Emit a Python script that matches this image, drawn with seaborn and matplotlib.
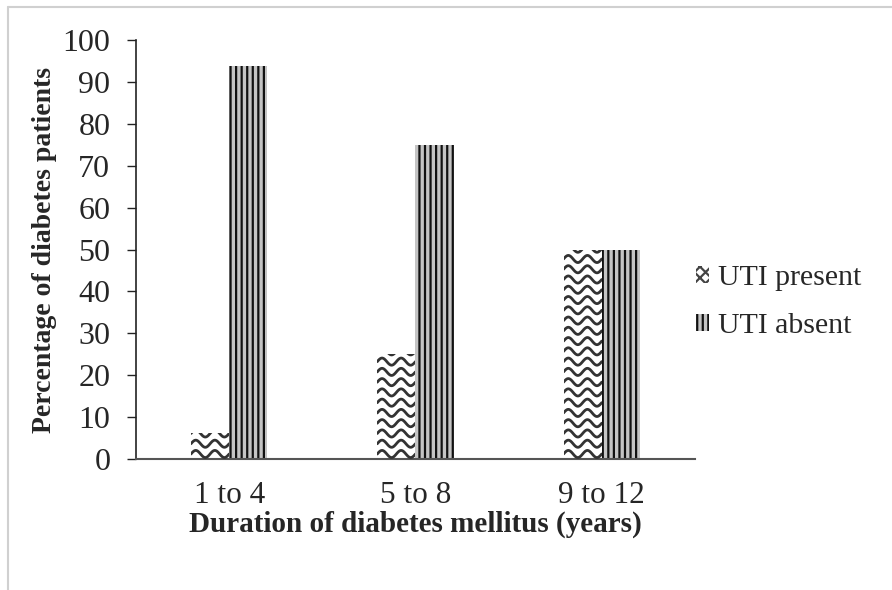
import numpy as np
import pandas as pd
import seaborn as sns
import matplotlib.pyplot as plt
from matplotlib.patches import Patch
from matplotlib.lines import Line2D

durations = ['1 to 4', '5 to 8', '9 to 12']
uti_present = [6.25, 25, 50]
uti_absent = [93.75, 75, 50]
series_names = ['UTI present', 'UTI absent']

df = pd.DataFrame({
    'Duration': durations * 2,
    'Percent': uti_present + uti_absent,
    'Group': [series_names[0]] * 3 + [series_names[1]] * 3,
})

sns.set_style('white')
plt.rcParams['font.family'] = ['Liberation Serif', 'DejaVu Serif']
plt.rcParams['hatch.linewidth'] = 1.6

fig = plt.figure(figsize=(8.92, 5.90), dpi=100)
ax = fig.add_axes([0.1525, 0.222, 0.6265, 0.71])

sns.barplot(data=df, x='Duration', y='Percent', hue='Group', ax=ax,
            width=0.41, legend=False, palette=['white', 'white'])

present_bars = ax.containers[0]
absent_bars = ax.containers[1]

for bar in absent_bars:
    bar.set_facecolor('#c4c4c4')
    bar.set_edgecolor('#111111')
    bar.set_hatch('|||')
    bar.set_linewidth(0)

# wavy fill for the "present" bars, clipped to each bar
for bar in present_bars:
    bar.set_facecolor('white')
    bar.set_linewidth(0)
    x0, y0 = bar.get_x(), bar.get_y()
    w, h = bar.get_width(), bar.get_height()
    xs = np.linspace(x0, x0 + w, 80)
    for yb in np.arange(y0 + 1.2, y0 + h + 3, 2.45):
        ys = yb + 0.85 * np.sin(2 * np.pi * (xs - x0) / (w / 2))
        ln = Line2D(xs, ys, color='#333333', lw=2.0, zorder=3)
        ax.add_line(ln)
        ln.set_clip_path(bar)

ax.set_ylim(0, 100)
ax.set_yticks(range(0, 101, 10))
ax.set_xlim(-0.5, 2.5)

for side in ['top', 'right']:
    ax.spines[side].set_visible(False)
ax.spines['left'].set_color('#222222')
ax.spines['left'].set_linewidth(1.2)
ax.spines['bottom'].set_color('#555555')
ax.spines['bottom'].set_linewidth(1.5)

ax.tick_params(axis='y', length=6.5, width=1, color='#222222', labelsize=23, pad=12, left=True)
ax.tick_params(axis='x', length=0, labelsize=22.5, pad=16)

ax.set_xlabel('Duration of diabetes mellitus (years)', fontsize=21, fontweight='bold', labelpad=0)
ax.set_ylabel('Percentage of diabetes patients', fontsize=20, fontweight='bold', labelpad=4)

handles = [
    Patch(facecolor='white', edgecolor='#444444', hatch='xxx', linewidth=0, label=series_names[0]),
    Patch(facecolor='#c4c4c4', edgecolor='#111111', hatch='|||', linewidth=0, label=series_names[1]),
]
ax.legend(handles=handles, loc='center left', bbox_to_anchor=(0.98, 0.375),
          frameon=False, fontsize=21.5, handlelength=0.45, handleheight=0.5,
          handletextpad=0.3, labelspacing=0.75, borderaxespad=0)

# thin grey frame around the figure (top/left visible)
fig.add_artist(Line2D([8 / 892, 1], [1 - 7 / 590, 1 - 7 / 590], color='#d0d0d0', lw=1.5))
fig.add_artist(Line2D([8 / 892, 8 / 892], [0, 1 - 7 / 590], color='#d0d0d0', lw=1.5))

fig.savefig('out.png', dpi=100)
